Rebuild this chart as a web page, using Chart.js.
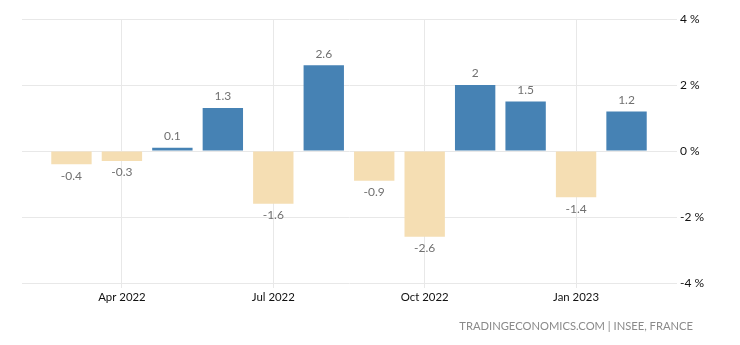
<!DOCTYPE html>
<html>
<head>
<meta charset="utf-8">
<script src="https://cdn.jsdelivr.net/npm/chart.js@4/dist/chart.umd.min.js"></script>
<style>
  html, body { margin: 0; padding: 0; background: #fff; }
  #wrap { position: relative; width: 740px; height: 345px; }
  #credit { position: absolute; right: 47px; top: 319px; font-family: Lato, sans-serif; font-size: 11.2px; color: #8a8a8a; white-space: nowrap; }
</style>
</head>
<body>
<div id="wrap">
  <canvas id="c" width="740" height="345"></canvas>
  <div id="credit">TRADINGECONOMICS.COM | INSEE, FRANCE</div>
</div>
<script>
const categories = ['Mar 2022','Apr 2022','May 2022','Jun 2022','Jul 2022','Aug 2022','Sep 2022','Oct 2022','Nov 2022','Dec 2022','Jan 2023','Feb 2023'];
const values = [-0.4, -0.3, 0.1, 1.3, -1.6, 2.6, -0.9, -2.6, 2, 1.5, -1.4, 1.2];
const tickLabels = ['Apr 2022','Jul 2022','Oct 2022','Jan 2023'];
const yTicks = [-4, -2, 0, 2, 4];

const POS = '#4682b4', NEG = '#f5deb3';
const FONT = 'Lato, sans-serif';

const labelPlugin = {
  id: 'valueLabels',
  afterDatasetsDraw(chart) {
    const ctx = chart.ctx;
    const meta = chart.getDatasetMeta(0);
    ctx.save();
    ctx.font = '12px ' + FONT;
    ctx.fillStyle = '#707070';
    ctx.textAlign = 'center';
    ctx.textBaseline = 'middle';
    meta.data.forEach((bar, i) => {
      const v = values[i];
      const y = v >= 0 ? bar.y - 11.5 : bar.y + 11.5;
      ctx.fillText(String(v), bar.x, y);
    });
    ctx.restore();
  }
};

new Chart(document.getElementById('c'), {
  type: 'bar',
  data: {
    datasets: [{
      data: values.map((v, i) => ({ x: i, y: v })),
      backgroundColor: values.map(v => v >= 0 ? POS : NEG),
      barPercentage: 0.8,
      categoryPercentage: 1.0,
      borderWidth: 0
    }]
  },
  options: {
    responsive: false,
    animation: false,
    layout: { padding: { left: 22, top: 19, right: 0, bottom: 0 } },
    plugins: { legend: { display: false }, tooltip: { enabled: false } },
    scales: {
      x: {
        type: 'linear',
        offset: false,
        min: -0.98,
        max: 12,
        afterBuildTicks: s => { s.ticks = tickLabels.map(t => ({ value: categories.indexOf(t) })); },
        afterFit: s => { s.height = 62; },
        border: { display: false },
        grid: { offset: false, color: '#e8e8e8', tickLength: 5, drawTicks: true, tickColor: '#e8e8e8' },
        ticks: {
          autoSkip: false,
          maxRotation: 0,
          padding: 2,
          color: '#111',
          font: { family: FONT, size: 11.4 },
          callback: v => categories[v]
        }
      },
      y: {
        position: 'right',
        min: -4,
        max: 4,
        afterBuildTicks: s => { s.ticks = yTicks.map(v => ({ value: v })); },
        afterFit: s => { s.width = 63; },
        border: { display: false },
        grid: { color: '#e8e8e8', drawTicks: false },
        ticks: {
          padding: 3,
          color: '#111',
          font: { family: FONT, size: 12 },
          callback: v => v + ' %'
        }
      }
    }
  },
  plugins: [labelPlugin]
});
</script>
</body>
</html>
